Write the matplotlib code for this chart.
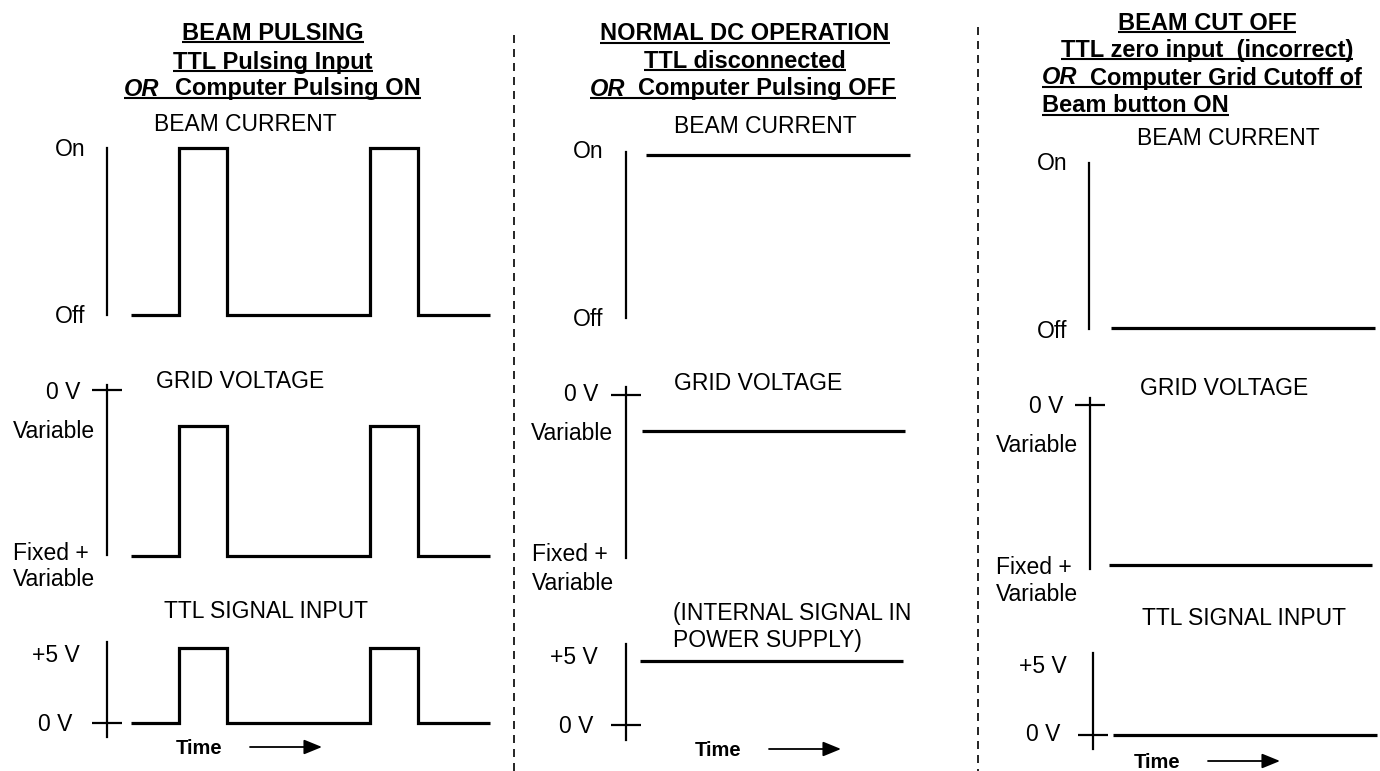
import matplotlib
matplotlib.use("Agg")
import matplotlib.pyplot as plt

plt.rcParams['font.family'] = ['Liberation Sans', 'DejaVu Sans']

W, H = 1380, 771

# waveform data (time in arbitrary units)
pulse_t = [0, 1, 2, 5, 6, 7.5]
pulse_beam = [0, 1, 0, 1, 0, 0]      # 0 = Off, 1 = On
pulse_grid = [0, 1, 0, 1, 0, 0]      # 0 = Fixed + Variable, 1 = Variable
pulse_ttl = [0, 5, 0, 5, 0, 0]       # volts

dc_t = [0, 5.5]
dc_beam = [1, 1]
dc_grid = [1, 1]
dc_ttl = [5, 5]

cut_t = [0, 5.5]
cut_beam = [0, 0]
cut_grid = [0, 0]
cut_ttl = [0, 0]

grid_zero_v = 1.28   # where "0 V" sits on the grid voltage scale

fig = plt.figure(figsize=(W / 100, H / 100), dpi=100)

# overlay axes in pixel units for text / layout
over = fig.add_axes([0, 0, 1, 1])
over.set_xlim(0, W)
over.set_ylim(H, 0)
over.axis('off')


def panel(axis_px, x0_px, x1_px, top_px, bot_px, lo_px, hi_px, t, y, lo, hi, zero_tick=None):
    # map data values lo/hi onto pixel rows lo_px/hi_px
    k = (hi_px - lo_px) / (hi - lo)
    y_bot = lo + (bot_px - lo_px) / k
    y_top = lo + (top_px - lo_px) / k
    sx = (x1_px - x0_px) / (t[-1] - t[0])
    x_left = t[0] - (x0_px - axis_px) / sx
    ax = fig.add_axes([axis_px / W, 1 - bot_px / H, (x1_px - axis_px) / W, (bot_px - top_px) / H])
    ax.set_xlim(x_left, t[-1])
    ax.set_ylim(y_bot, y_top)
    ax.patch.set_alpha(0)
    for s in ['top', 'right', 'bottom']:
        ax.spines[s].set_visible(False)
    ax.spines['left'].set_linewidth(1.6)
    ax.set_xticks([])
    ax.set_yticks([])
    ax.step(t, y, where='post', color='black', lw=2.3, clip_on=False,
            solid_joinstyle='miter', solid_capstyle='butt')
    if zero_tick is not None:
        ax.plot([x_left], [zero_tick], marker='_', ms=21, mew=1.6, color='black', clip_on=False)
    return ax


# column 1 - beam pulsing
panel(107, 131, 490, 148, 315, 315, 147.5, pulse_t, pulse_beam, 0, 1)
panel(107, 131, 490, 385, 555, 556, 426, pulse_t, pulse_grid, 0, 1, zero_tick=grid_zero_v)
panel(107, 131, 490, 642, 737, 723, 648, pulse_t, pulse_ttl, 0, 5, zero_tick=0)

# column 2 - normal DC operation
panel(626, 646, 910, 152, 318, 318, 155, dc_t, dc_beam, 0, 1)
panel(626, 642, 905, 387, 558, 560, 431, dc_t, dc_grid, 0, 1, zero_tick=grid_zero_v)
panel(626, 640, 903, 644, 740, 725, 661, dc_t, dc_ttl, 0, 5, zero_tick=0)

# column 3 - beam cut off
panel(1089, 1111, 1375, 163, 329, 328, 163, cut_t, cut_beam, 0, 1)
panel(1090, 1109, 1372, 398, 569, 565, 440, cut_t, cut_grid, 0, 1, zero_tick=grid_zero_v)
panel(1093, 1113, 1377, 653, 749, 735, 660, cut_t, cut_ttl, 0, 5, zero_tick=0)

# divider lines
for x, y0 in [(514, 35), (978, 27)]:
    over.plot([x, x], [y0, H], color='black', lw=1.2, linestyle=(0, (4.8, 3.6)))

# headings: (text, x, baseline, ha, italic)
TS = 17
headings = [
    [("BEAM PULSING", 273, 39.5, 'center', False)],
    [("TTL Pulsing Input", 273, 68.5, 'center', False)],
    [("OR", 124, 95.5, 'left', True), ("Computer Pulsing ON", 175, 95.5, 'left', False)],
    [("NORMAL DC OPERATION", 745, 40.5, 'center', False)],
    [("TTL disconnected", 745, 67.5, 'center', False)],
    [("OR", 590, 95.5, 'left', True), ("Computer Pulsing OFF", 638, 95.5, 'left', False)],
    [("BEAM CUT OFF", 1207, 29.5, 'center', False)],
    [("TTL zero input  (incorrect)", 1207, 56.5, 'center', False)],
    [("OR", 1042, 84.5, 'left', True), ("Computer Grid Cutoff of", 1090, 84.5, 'left', False)],
    [("Beam button ON", 1042, 112.5, 'left', False)],
]
head_texts = []
for line in headings:
    objs = []
    for txt, x, yb, ha, it in line:
        objs.append(over.text(x, yb, txt, ha=ha, va='baseline', fontsize=TS, fontweight='bold',
                              fontstyle='italic' if it else 'normal'))
    head_texts.append(objs)

# plain labels: (text, x, y_center, ha)
FS = 16.5
labels = [
    ("BEAM CURRENT", 245, 123, 'center'), ("On", 85, 148, 'right'), ("Off", 85, 315, 'right'),
    ("GRID VOLTAGE", 240, 380, 'center'), ("0 V", 80, 391, 'right'), ("Variable", 95, 430, 'right'),
    ("Fixed +", 13, 552, 'left'), ("Variable", 13, 578, 'left'),
    ("TTL SIGNAL INPUT", 266, 610, 'center'), ("+5 V", 80, 654, 'right'), ("0 V", 72, 723, 'right'),

    ("BEAM CURRENT", 765, 125, 'center'), ("On", 603, 150, 'right'), ("Off", 603, 318, 'right'),
    ("GRID VOLTAGE", 758, 382, 'center'), ("0 V", 598, 393, 'right'), ("Variable", 613, 432, 'right'),
    ("Fixed +", 532, 553, 'left'), ("Variable", 532, 582, 'left'),
    ("(INTERNAL SIGNAL IN", 673, 612, 'left'), ("POWER SUPPLY)", 673, 639, 'left'),
    ("+5 V", 598, 656, 'right'), ("0 V", 593, 725, 'right'),

    ("BEAM CURRENT", 1228, 137, 'center'), ("On", 1067, 162, 'right'), ("Off", 1067, 330, 'right'),
    ("GRID VOLTAGE", 1224, 387, 'center'), ("0 V", 1063, 405, 'right'), ("Variable", 1078, 444, 'right'),
    ("Fixed +", 996, 566, 'left'), ("Variable", 996, 593, 'left'),
    ("TTL SIGNAL INPUT", 1244, 617, 'center'), ("+5 V", 1067, 665, 'right'), ("0 V", 1060, 733, 'right'),
]
for txt, x, yc, ha in labels:
    over.text(x, yc + 8, txt, ha=ha, va='baseline', fontsize=FS)

# time arrows
for xt, y, xa0, xa1 in [(199, 747, 250, 322), (718, 749, 769, 841), (1157, 761, 1208, 1280)]:
    over.text(xt, y + 7, "Time", ha='center', va='baseline', fontsize=14.5, fontweight='bold')
    over.annotate("", xy=(xa1, y), xytext=(xa0, y),
                  arrowprops=dict(arrowstyle='-|>,head_length=1.1,head_width=0.45',
                                  color='black', lw=1.3, shrinkA=0, shrinkB=0))

# underline the headings
fig.canvas.draw()
r = fig.canvas.get_renderer()
inv = over.transData.inverted()
for objs in head_texts:
    x0 = min(o.get_window_extent(r).x0 for o in objs)
    x1 = max(o.get_window_extent(r).x1 for o in objs)
    yb = objs[0].get_position()[1] + 2.5
    over.plot([x0, x1], [yb, yb], color='black', lw=1.5, solid_capstyle='butt')

fig.savefig("out.png", dpi=100)
